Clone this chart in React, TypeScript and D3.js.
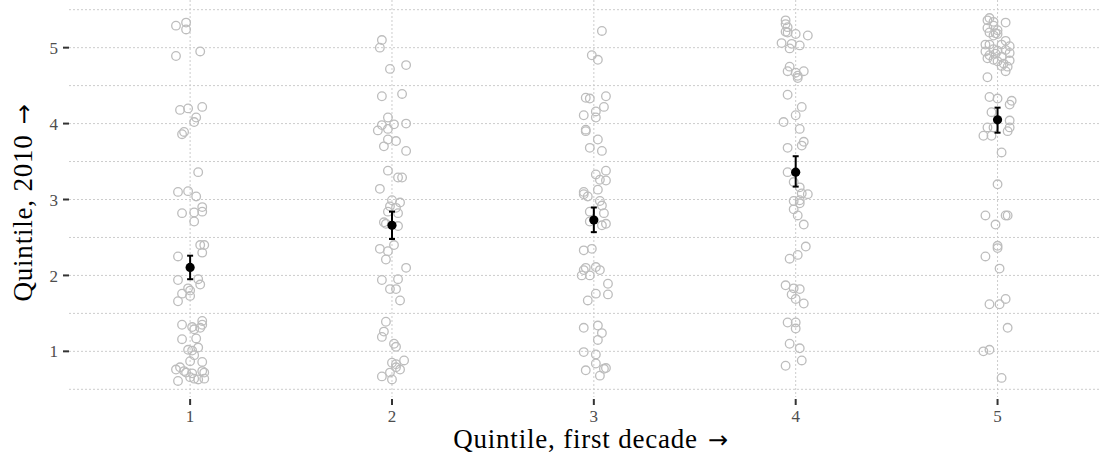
import * as d3 from "d3";

// quintile positions on x, ticks on y
const quintiles = [1, 2, 3, 4, 5];
const yTicks = [1, 2, 3, 4, 5];
const yMinor = [0.5, 1.5, 2.5, 3.5, 4.5, 5.5];

// jittered observations: [quintile first decade (jittered), quintile 2010]
const q1Points: [number, number][] = [
  [0.93, 5.29], [0.98, 5.33], [0.98, 5.24], [0.93, 4.89], [1.05, 4.95], [0.95, 4.18], [0.99, 4.2],
  [1.06, 4.22], [1.03, 4.08], [1.02, 4.02], [0.97, 3.89], [0.96, 3.86], [1.04, 3.36], [0.94, 3.1],
  [0.99, 3.11], [1.03, 3.04], [1.06, 2.9], [0.96, 2.82], [1.02, 2.83], [1.06, 2.84], [1.02, 2.71],
  [1.05, 2.4], [1.07, 2.4], [1.06, 2.3], [0.94, 2.25], [0.94, 1.94], [1.04, 1.95], [1.05, 1.88],
  [0.99, 1.83], [1.0, 1.8], [0.96, 1.76], [1.0, 1.73], [0.94, 1.66], [0.96, 1.35], [1.06, 1.4],
  [1.06, 1.35], [1.01, 1.32], [1.05, 1.31], [1.02, 1.29], [0.96, 1.16], [1.03, 1.17], [1.04, 1.05],
  [0.99, 1.02], [1.01, 1.01], [1.02, 0.95], [1.0, 0.87], [1.06, 0.86], [0.93, 0.76], [0.95, 0.79],
  [0.97, 0.74], [0.98, 0.72], [1.01, 0.71], [1.06, 0.74], [1.07, 0.72], [1.0, 0.66], [1.02, 0.64],
  [1.04, 0.63], [1.07, 0.64], [0.94, 0.61],
];
const q2Points: [number, number][] = [
  [1.95, 5.1], [1.94, 5.0], [2.07, 4.77], [1.99, 4.72], [1.95, 4.36], [2.05, 4.39], [1.98, 4.08],
  [1.95, 3.98], [2.01, 3.99], [2.07, 4.0], [1.93, 3.91], [1.98, 3.93], [1.98, 3.79], [2.02, 3.77],
  [1.96, 3.7], [2.07, 3.64], [1.98, 3.38], [2.03, 3.29], [2.05, 3.29], [1.94, 3.14], [2.0, 2.99],
  [2.04, 2.96], [1.99, 2.91], [2.02, 2.89], [1.98, 2.84], [2.03, 2.82], [1.96, 2.7], [1.97, 2.68],
  [2.03, 2.65], [1.94, 2.35], [1.98, 2.32], [2.01, 2.4], [1.97, 2.21], [2.07, 2.1], [1.95, 1.94],
  [2.03, 1.95], [1.99, 1.82], [2.02, 1.82], [2.04, 1.67], [1.97, 1.39], [1.96, 1.26], [1.95, 1.19],
  [2.01, 1.1], [2.02, 1.06], [2.0, 0.85], [2.02, 0.83], [2.06, 0.88], [2.04, 0.76], [2.02, 0.79],
  [1.95, 0.67], [2.0, 0.63], [1.99, 0.72],
];
const q3Points: [number, number][] = [
  [3.04, 5.22], [2.99, 4.9], [3.02, 4.84], [2.96, 4.34], [2.98, 4.33], [3.06, 4.36], [3.05, 4.22],
  [3.01, 4.16], [2.95, 4.11], [3.01, 4.08], [2.96, 3.92], [2.96, 3.9], [3.02, 3.79], [2.98, 3.68],
  [3.04, 3.64], [3.06, 3.38], [3.01, 3.33], [3.03, 3.26], [3.06, 3.25], [3.02, 3.13], [2.95, 3.1],
  [2.95, 3.07], [2.97, 3.04], [3.03, 2.98], [3.04, 2.92], [2.98, 2.84], [3.05, 2.82], [2.98, 2.71],
  [3.06, 2.68], [3.04, 2.66], [2.95, 2.33], [2.99, 2.35], [2.96, 2.1], [2.95, 2.07], [3.01, 2.11],
  [3.03, 2.07], [2.94, 2.0], [2.98, 2.0], [3.07, 1.89], [3.07, 1.75], [3.01, 1.76], [2.97, 1.67],
  [2.95, 1.31], [3.02, 1.34], [3.04, 1.24], [3.02, 1.15], [2.95, 0.99], [3.01, 0.96], [3.01, 0.84],
  [3.06, 0.78], [3.05, 0.77], [2.96, 0.75], [3.03, 0.68],
];
const q4Points: [number, number][] = [
  [3.95, 5.36], [3.95, 5.31], [3.96, 5.27], [3.95, 5.21], [3.96, 5.2], [4.0, 5.18], [4.06, 5.16],
  [3.93, 5.06], [3.98, 5.05], [4.02, 5.03], [3.97, 4.99], [3.97, 4.75], [3.96, 4.69], [4.0, 4.67],
  [4.04, 4.69], [4.01, 4.6], [4.01, 4.63], [3.96, 4.38], [4.03, 4.22], [4.0, 4.11], [3.94, 4.02],
  [4.02, 3.93], [4.04, 3.76], [4.03, 3.71], [3.96, 3.68], [3.96, 3.36], [3.99, 3.23], [4.02, 3.16],
  [4.03, 3.08], [4.06, 3.07], [3.99, 2.98], [4.02, 2.99], [4.02, 2.95], [3.99, 2.87], [4.01, 2.79],
  [4.04, 2.67], [4.05, 2.38], [4.01, 2.27], [3.97, 2.22], [3.95, 1.87], [3.99, 1.83], [4.02, 1.82],
  [3.98, 1.75], [4.0, 1.69], [4.04, 1.63], [3.96, 1.38], [4.0, 1.38], [4.0, 1.3], [3.97, 1.1],
  [4.02, 1.04], [4.03, 0.88], [3.95, 0.81],
];
const q5Points: [number, number][] = [
  [4.95, 5.36], [4.96, 5.39], [4.98, 5.34], [5.04, 5.33], [4.95, 5.26], [4.98, 5.29], [5.0, 5.23],
  [4.96, 5.2], [4.99, 5.19], [5.0, 5.18], [4.98, 5.16], [5.04, 5.09], [4.94, 5.04], [4.96, 5.04],
  [5.06, 5.02], [5.02, 5.04], [4.98, 4.98], [4.94, 4.95], [5.0, 4.96], [5.04, 4.97], [5.06, 4.93],
  [4.96, 4.9], [4.99, 4.92], [5.02, 4.88], [4.95, 4.86], [4.98, 4.84], [5.0, 4.82], [5.06, 4.83],
  [5.03, 4.79], [5.05, 4.75], [5.02, 4.76], [5.04, 4.69], [4.95, 4.61], [4.96, 4.35], [5.0, 4.33],
  [5.07, 4.3], [5.06, 4.25], [4.97, 4.15], [5.06, 4.04], [4.95, 3.95], [4.98, 3.95], [5.06, 3.95],
  [5.05, 3.9], [4.93, 3.84], [4.97, 3.84], [5.02, 3.62], [5.0, 3.2], [4.94, 2.79], [5.04, 2.79],
  [5.05, 2.79], [4.99, 2.67], [5.0, 2.39], [5.0, 2.36], [4.94, 2.25], [5.01, 2.09], [5.04, 1.69],
  [4.96, 1.62], [5.01, 1.62], [5.05, 1.31], [4.93, 1.0], [4.96, 1.02], [5.02, 0.65],
];

// group means with interval
const means = [2.105, 2.66, 2.73, 3.36, 4.05];
const ciLow = [1.95, 2.48, 2.57, 3.17, 3.88];
const ciHigh = [2.26, 2.84, 2.895, 3.57, 4.21];

const W = 1110;
const H = 460;
const panel = { left: 69, right: 1101, top: 0, bottom: 397 };

const serif = "'Liberation Serif', 'DejaVu Serif', serif";
const arrowFont = "'DejaVu Sans', sans-serif";

export default function App() {
  const x = d3.scaleLinear().domain([0.4, 5.51]).range([69, 1100.5]);
  const y = d3.scaleLinear().domain([0.5, 5.5]).range([389.3, 9.7]);

  const allPoints = [...q1Points, ...q2Points, ...q3Points, ...q4Points, ...q5Points];

  return (
    <svg
      width={W}
      height={H}
      style={{ position: "absolute", left: 0, top: 0, background: "#fff" }}
      fontFamily={serif}
    >
      {/* grid */}
      <g stroke="#cccccc" strokeWidth={1} strokeDasharray="2,2">
        {yMinor.map((v) => (
          <line key={"mn" + v} x1={panel.left} x2={panel.right} y1={y(v)} y2={y(v)} />
        ))}
        {yTicks.map((v) => (
          <line key={"mj" + v} x1={panel.left} x2={panel.right} y1={y(v)} y2={y(v)} />
        ))}
        {quintiles.map((q) => (
          <line key={"v" + q} x1={x(q)} x2={x(q)} y1={panel.top} y2={panel.bottom} />
        ))}
      </g>

      {/* observations */}
      <g fill="none" stroke="#bdbdbd" strokeWidth={1.3}>
        {allPoints.map(([px, py], i) => (
          <circle key={i} cx={x(px)} cy={y(py)} r={4.3} />
        ))}
      </g>

      {/* means with error bars */}
      <g stroke="#000" strokeWidth={2}>
        {quintiles.map((q, i) => (
          <g key={q}>
            <line x1={x(q)} x2={x(q)} y1={y(ciLow[i])} y2={y(ciHigh[i])} />
            <line x1={x(q) - 3} x2={x(q) + 3} y1={y(ciLow[i])} y2={y(ciLow[i])} />
            <line x1={x(q) - 3} x2={x(q) + 3} y1={y(ciHigh[i])} y2={y(ciHigh[i])} />
            <circle cx={x(q)} cy={y(means[i])} r={4.6} fill="#000" stroke="none" />
          </g>
        ))}
      </g>

      {/* y axis */}
      <g>
        {yTicks.map((v) => (
          <g key={v}>
            <line x1={63} x2={69} y1={y(v)} y2={y(v)} stroke="#333" strokeWidth={2} />
            <text x={58} y={y(v)} dy="0.36em" textAnchor="end" fontSize={17} fill="#4d4d4d">
              {v}
            </text>
          </g>
        ))}
      </g>

      {/* x axis */}
      <g>
        {quintiles.map((q) => (
          <g key={q}>
            <line x1={x(q)} x2={x(q)} y1={399} y2={405} stroke="#333" strokeWidth={2} />
            <text x={x(q)} y={422} textAnchor="middle" fontSize={17} fill="#4d4d4d">
              {q}
            </text>
          </g>
        ))}
      </g>

      <text x={591} y={448} textAnchor="middle" fontSize={27} letterSpacing={0.8} fill="#000">
        Quintile, first decade
        <tspan dx={10} fontFamily={arrowFont} fontSize={24}>{"\u2192"}</tspan>
      </text>
      <text
        transform={`translate(32, ${(y(0.5) + y(5.5)) / 2 + 3}) rotate(-90)`}
        textAnchor="middle"
        fontSize={27}
        letterSpacing={0.8}
        fill="#000"
      >
        Quintile, 2010
        <tspan dx={10} fontFamily={arrowFont} fontSize={24}>{"\u2192"}</tspan>
      </text>
    </svg>
  );
}
